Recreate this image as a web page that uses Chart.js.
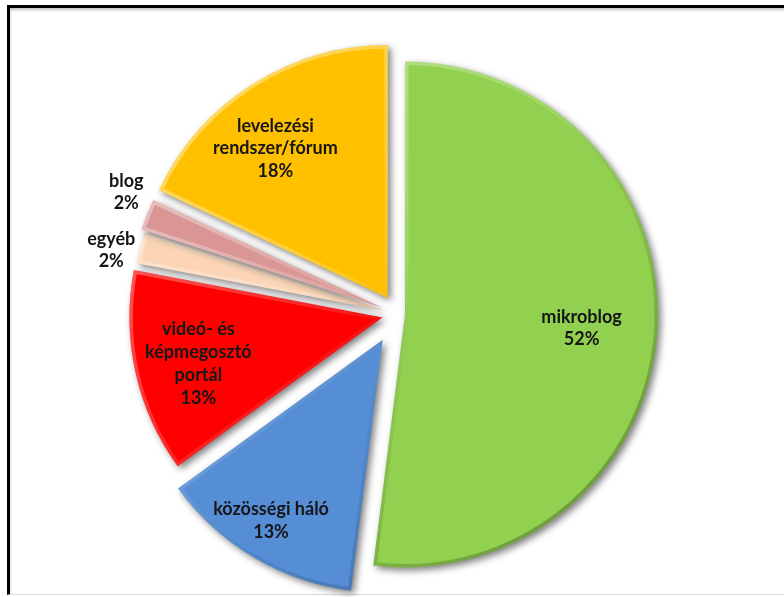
<!DOCTYPE html>
<html>
<head>
<meta charset="utf-8">
<script src="https://cdn.jsdelivr.net/npm/chart.js@4.4.1/dist/chart.umd.min.js"></script>
<style>
  html, body { margin: 0; padding: 0; background: #fff; }
  #wrap { position: relative; width: 784px; height: 597px; overflow: hidden; }
  #frame {
    position: absolute; left: 7px; top: 5px; right: -10px; bottom: 2px;
    border-top: 3px solid #000; border-left: 3px solid #000;
    border-bottom: 1px solid #ddd;
    box-shadow: inset 0 2px 3px rgba(0,0,0,0.25);
  }
  canvas { position: absolute; left: 0; top: 0; }
</style>
</head>
<body>
<div id="wrap">
  <div id="frame"></div>
  <canvas id="pie" width="784" height="597"></canvas>
</div>
<script>
// data, clockwise from 12 o'clock
const categories = [
  ["mikroblog"],
  ["közösségi háló"],
  ["videó- és", "képmegosztó", "portál"],
  ["egyéb"],
  ["blog"],
  ["levelezési", "rendszer/fórum"]
];
const shares = [52, 13, 13, 2, 2, 18];

// look
const colors = ["#92D050", "#558ED5", "#FF0000", "#FBD5B5", "#D99694", "#FFC000"];
const explode = [7, 30, 16, 13, 17, 19];          // px each slice is pulled out
const labelDist = [0.70, 0.84, 0.75, 1.11, 1.11, 0.74]; // of radius, from slice tip
const labelTurn = [0.8, 1.1, -1.5, -1.9, 2.7, -4.5];    // degrees off the mid angle

function slicePath(ctx, p) {
  ctx.beginPath();
  ctx.moveTo(p.x, p.y);
  ctx.arc(p.x, p.y, p.outerRadius, p.startAngle, p.endAngle);
  ctx.closePath();
}

// draws the library's arcs pulled out, with a drop shadow and a soft bevel
const explodePlugin = {
  id: "explode",
  beforeDatasetsDraw(chart) {
    const ctx = chart.ctx;
    const meta = chart.getDatasetMeta(0);
    meta.data.forEach((arc, i) => {
      const p = arc.getProps(["x", "y", "startAngle", "endAngle", "outerRadius"], true);
      const mid = (p.startAngle + p.endAngle) / 2;
      ctx.save();
      ctx.translate(Math.cos(mid) * explode[i], Math.sin(mid) * explode[i]);
      ctx.save();
      ctx.shadowColor = "rgba(0,0,0,0.5)";
      ctx.shadowBlur = 7;
      ctx.shadowOffsetX = 3;
      ctx.shadowOffsetY = 3;
      arc.draw(ctx);
      ctx.restore();

      // bevel
      slicePath(ctx, p);
      ctx.clip();
      const g = ctx.createLinearGradient(p.x - p.outerRadius, p.y - p.outerRadius,
                                         p.x + p.outerRadius, p.y + p.outerRadius);
      g.addColorStop(0, "rgba(255,255,255,0.5)");
      g.addColorStop(0.45, "rgba(255,255,255,0.12)");
      g.addColorStop(0.6, "rgba(0,0,0,0.06)");
      g.addColorStop(1, "rgba(0,0,0,0.35)");
      ctx.strokeStyle = g;
      ctx.lineWidth = 7;
      ctx.lineJoin = "miter";
      slicePath(ctx, p);
      ctx.stroke();
      ctx.restore();
    });
    return false;
  },
  afterDraw(chart) {
    const ctx = chart.ctx;
    const meta = chart.getDatasetMeta(0);
    ctx.save();
    ctx.font = "bold 18px Lato, 'Open Sans', sans-serif";
    ctx.fillStyle = "#161616";
    ctx.textAlign = "center";
    ctx.textBaseline = "middle";
    meta.data.forEach((arc, i) => {
      const p = arc.getProps(["x", "y", "startAngle", "endAngle", "outerRadius"], true);
      const mid = (p.startAngle + p.endAngle) / 2;
      const tx = p.x + Math.cos(mid) * explode[i];
      const ty = p.y + Math.sin(mid) * explode[i];
      const a = mid + labelTurn[i] * Math.PI / 180;
      const r = p.outerRadius * labelDist[i];
      const cx = tx + Math.cos(a) * r;
      const cy = ty + Math.sin(a) * r;
      const lines = categories[i].concat([shares[i] + "%"]);
      const lh = lines.length > 3 ? 23.3 : 22.5;
      lines.forEach((t, k) => {
        ctx.fillText(t, cx, cy + (k - (lines.length - 1) / 2) * lh);
      });
    });
    ctx.restore();
  }
};

new Chart(document.getElementById("pie"), {
  type: "pie",
  data: {
    labels: categories.map(c => c.join(" ")),
    datasets: [{
      data: shares,
      backgroundColor: colors,
      borderWidth: 0,
      hoverOffset: 0
    }]
  },
  options: {
    responsive: false,
    animation: false,
    radius: 253,
    layout: { padding: { left: 12, right: 0, top: 31, bottom: 0 } },
    plugins: { legend: { display: false }, tooltip: { enabled: false } }
  },
  plugins: [explodePlugin]
});
</script>
</body>
</html>
